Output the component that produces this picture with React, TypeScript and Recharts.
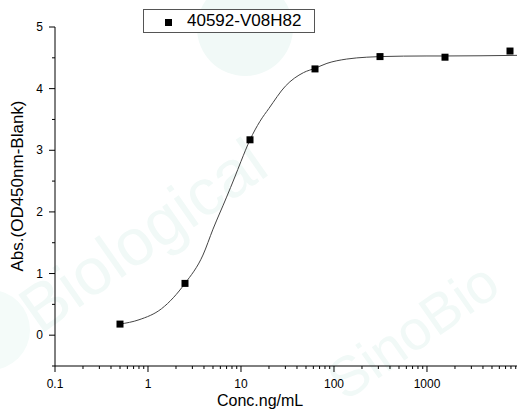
import { ComposedChart, Line, Scatter, XAxis, YAxis } from 'recharts';

const SERIES_NAME = '40592-V08H82';

// measured points
const CONC = [0.5, 2.5, 12.5, 62.5, 312.5, 1562.5, 7812.5];
const ABS = [0.18, 0.84, 3.17, 4.32, 4.52, 4.51, 4.61];

// fitted curve
const FIT_CONC = [0.5, 0.8, 1.4, 2.5, 3.9, 5, 7, 8.5, 10, 12.5, 16, 20, 30, 47, 62.5, 84, 137, 225, 312.5, 1000, 1562.5, 9290];
const FIT_ABS = [0.18, 0.25, 0.43, 0.84, 1.3, 1.72, 2.24, 2.55, 2.82, 3.17, 3.47, 3.68, 4.04, 4.26, 4.33, 4.41, 4.48, 4.51, 4.52, 4.53, 4.53, 4.54];

const X_TICKS = [
  0.1, 0.2, 0.3, 0.4, 0.5, 0.6, 0.7, 0.8, 0.9,
  1, 2, 3, 4, 5, 6, 7, 8, 9,
  10, 20, 30, 40, 50, 60, 70, 80, 90,
  100, 200, 300, 400, 500, 600, 700, 800, 900,
  1000, 2000, 3000, 4000, 5000, 6000, 7000, 8000, 9000,
];
const X_LABELS = [0.1, 1, 10, 100, 1000];
const Y_TICKS = [-0.5, 0, 0.5, 1, 1.5, 2, 2.5, 3, 3.5, 4, 4.5, 5];
const Y_LABELS = [0, 1, 2, 3, 4, 5];

const FONT = '"Liberation Sans", Arial, sans-serif';

const points = CONC.map((x, i) => ({ x, y: ABS[i] }));
const fit = FIT_CONC.map((x, i) => ({ x, y: FIT_ABS[i] }));

const XTick = ({ x, y, payload }: any) => {
  const major = X_LABELS.includes(payload.value);
  return (
    <g>
      <line x1={x} x2={x} y1={y} y2={y + (major ? 6 : 3)} stroke="#000" />
      {major && (
        <text x={x} y={y + 22} textAnchor="middle" fontSize={12} fontFamily={FONT} fill="#000">
          {payload.value}
        </text>
      )}
    </g>
  );
};

const YTick = ({ x, y, payload }: any) => {
  const major = Y_LABELS.includes(payload.value);
  return (
    <g>
      <line x1={x - (major ? 6 : 3)} x2={x} y1={y} y2={y} stroke="#000" />
      {major && (
        <text x={x - 12} y={y + 4} textAnchor="end" fontSize={12} fontFamily={FONT} fill="#000">
          {payload.value}
        </text>
      )}
    </g>
  );
};

const Square = ({ cx, cy }: any) => <rect x={cx - 3.5} y={cy - 3.5} width={7} height={7} fill="#000" />;

export default function App() {
  return (
    <div style={{ position: 'absolute', left: 0, top: 0, width: 517, height: 412, fontFamily: FONT, background: '#fff', overflow: 'hidden' }}>
      {/* faint watermark */}
      <svg width={517} height={412} style={{ position: 'absolute', left: 0, top: 0 }}>
        <circle cx={245} cy={28} r={48} fill="#f1f9f7" />
        <circle cx={-10} cy={330} r={40} fill="#f4fbf9" />
        <text x={40} y={335} fontSize={66} fontFamily={FONT} fill="#f1f9f7" transform="rotate(-35 40 335)">
          Biological
        </text>
        <text x={345} y={402} fontSize={56} fontFamily={FONT} fill="#f1f9f7" transform="rotate(-35 345 402)">
          SinoBio
        </text>
      </svg>

      <div style={{ position: 'absolute', left: 0, top: 0 }}>
        <ComposedChart width={517} height={412} margin={{ top: 27, right: 0, bottom: 0, left: 0 }}>
          <XAxis
            dataKey="x"
            type="number"
            scale="log"
            domain={[0.1, 9290]}
            allowDataOverflow
            ticks={X_TICKS}
            interval={0}
            tick={<XTick />}
            tickSize={0}
            tickMargin={0}
            tickLine={false}
            axisLine={{ stroke: '#000' }}
            height={46}
          />
          <YAxis
            type="number"
            domain={[-0.5, 5]}
            allowDataOverflow
            ticks={Y_TICKS}
            interval={0}
            tick={<YTick />}
            tickSize={0}
            tickMargin={0}
            tickLine={false}
            axisLine={{ stroke: '#000' }}
            width={55}
          />
          <Line
            data={fit}
            dataKey="y"
            type="monotone"
            stroke="#444"
            strokeWidth={1}
            dot={false}
            activeDot={false}
            isAnimationActive={false}
          />
          <Scatter data={points} dataKey="y" name={SERIES_NAME} shape={<Square />} isAnimationActive={false} />
        </ComposedChart>
      </div>

      {/* legend */}
      <div
        style={{
          position: 'absolute',
          left: 143,
          top: 9,
          width: 170,
          height: 22,
          border: '1px solid #555',
          background: '#fff',
        }}
      >
        <div style={{ position: 'absolute', left: 21, top: 9, width: 7, height: 7, background: '#000' }} />
        <div style={{ position: 'absolute', left: 43, top: 1, fontSize: 17, lineHeight: '20px', whiteSpace: 'nowrap', color: '#000' }}>
          {SERIES_NAME}
        </div>
      </div>

      {/* axis titles */}
      <div style={{ position: 'absolute', left: 0, top: 393, width: 520, fontSize: 16, lineHeight: '16px', color: '#000' }}>
        <span style={{ position: 'absolute', left: 217 }}>Conc.ng/mL</span>
      </div>
      <div
        style={{
          position: 'absolute',
          left: 17,
          top: 186,
          transform: 'translate(-50%, -50%) rotate(-90deg)',
          fontSize: 17,
          lineHeight: '17px',
          whiteSpace: 'nowrap',
          color: '#000',
        }}
      >
        Abs.(OD450nm-Blank)
      </div>
    </div>
  );
}
